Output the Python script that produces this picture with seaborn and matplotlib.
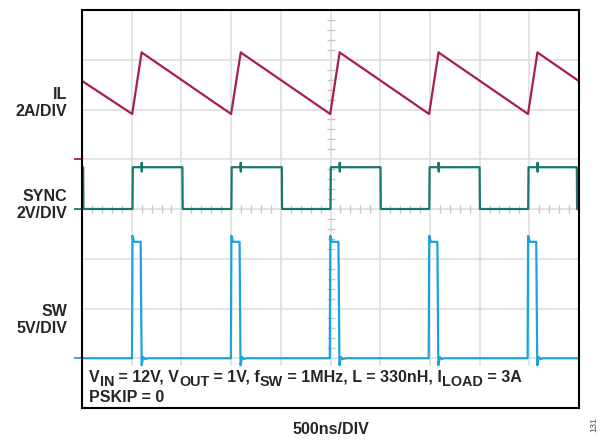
import matplotlib
matplotlib.use("Agg")
import matplotlib.pyplot as plt
import matplotlib.patches as mpatches
import pandas as pd
import seaborn as sns

# Scope settings: 500 ns/div horizontally, 10 x 8 divisions
ns_per_div = 500
n_xdiv = 10
n_ydiv = 8

# Inductor current IL (A), 2 A/div, ground marker at division 5
il_t_ns = [0, 505, 600, 612, 1500, 1597, 1609, 2497, 2592, 2604, 3492, 3587, 3599,
           4487, 4582, 4594, 5000]
il_amps = [3.15, 1.82, 4.30, 4.26, 1.82, 4.30, 4.26, 1.82, 4.30, 4.26, 1.82, 4.30, 4.26,
           1.82, 4.30, 4.26, 3.14]
il_scale, il_ground = 2.0, 5

# SYNC clock (V), 2 V/div, ground marker at division 4
sync_t_ns = [0, 12, 14, 508, 511,
             600, 601, 602, 603, 1010, 1013,
             1503, 1506, 1596, 1597, 1598, 1599, 2010, 2013,
             2500, 2503, 2592, 2593, 2594, 2595, 3003, 3006,
             3494, 3497, 3587, 3588, 3589, 3590, 4000, 4003,
             4489, 4492, 4582, 4583, 4584, 4585, 4978, 4981, 5000]
sync_volts = [1.68, 1.68, 0.0, 0.0, 1.68,
              1.68, 1.86, 1.50, 1.68, 1.68, 0.0,
              0.0, 1.68, 1.68, 1.86, 1.50, 1.68, 1.68, 0.0,
              0.0, 1.68, 1.68, 1.86, 1.50, 1.68, 1.68, 0.0,
              0.0, 1.68, 1.68, 1.86, 1.50, 1.68, 1.68, 0.0,
              0.0, 1.68, 1.68, 1.86, 1.50, 1.68, 1.68, 0.0, 0.0]
sync_scale, sync_ground = 2.0, 4

# Switch node SW (V), 5 V/div, ground marker at division 1
sw_t_ns = [0, 500,
           503, 508, 525, 590, 600, 615, 635, 660, 1495,
           1498, 1503, 1520, 1585, 1595, 1610, 1630, 1655, 2490,
           2493, 2498, 2515, 2580, 2590, 2605, 2625, 2650, 3485,
           3488, 3493, 3510, 3575, 3585, 3600, 3620, 3645, 4480,
           4483, 4488, 4505, 4570, 4580, 4595, 4615, 4640, 5000]
sw_volts = [0.0, 0.0,
            0.0, 12.3, 11.7, 11.7, -0.7, 0.12, -0.08, 0.0, 0.0,
            0.0, 12.3, 11.7, 11.7, -0.7, 0.12, -0.08, 0.0, 0.0,
            0.0, 12.3, 11.7, 11.7, -0.7, 0.12, -0.08, 0.0, 0.0,
            0.0, 12.3, 11.7, 11.7, -0.7, 0.12, -0.08, 0.0, 0.0,
            0.0, 12.3, 11.7, 11.7, -0.7, 0.12, -0.08, 0.0, 0.0]
sw_scale, sw_ground = 5.0, 1

channel_names = ["IL", "SYNC", "SW"]
channel_labels = ["IL\n2A/DIV", "SYNC\n2V/DIV", "SW\n5V/DIV"]
channel_colors = ["#A81E4C", "#17776D", "#1BA3DA"]

# test conditions: (text, is_subscript)
condition_parts = [("V", False), ("IN", True), (" = 12V, V", False), ("OUT", True),
                   (" = 1V, f", False), ("SW", True),
                   (" = 1MHz, L = 330nH, I", False), ("LOAD", True), (" = 3A", False)]
condition_line2 = "PSKIP = 0"
x_caption = "500ns/DIV"
fig_number = "131"

sns.set_style("white")
plt.rcParams["font.family"] = ["Liberation Sans", "DejaVu Sans"]

traces = pd.concat([
    pd.DataFrame({"t": il_t_ns, "div": [il_ground + a / il_scale for a in il_amps],
                  "ch": "IL"}),
    pd.DataFrame({"t": sync_t_ns, "div": [sync_ground + v / sync_scale for v in sync_volts],
                  "ch": "SYNC"}),
    pd.DataFrame({"t": sw_t_ns, "div": [sw_ground + v / sw_scale for v in sw_volts],
                  "ch": "SW"}),
], ignore_index=True)

W, H = 616, 441
fig = plt.figure(figsize=(W / 100, H / 100), dpi=100)
ax = fig.add_axes([82 / W, 33 / H, 497 / W, 398 / H])

ax.set_xlim(0, n_xdiv * ns_per_div)
ax.set_ylim(0, n_ydiv)
ax.set_xticks([i * ns_per_div for i in range(n_xdiv + 1)])
ax.set_yticks(range(n_ydiv + 1))
ax.set_xticklabels([])
ax.set_yticklabels([])
ax.tick_params(length=0)
ax.grid(True, color="#DCDCDC", lw=1.1)
ax.set_axisbelow(True)
for s in ax.spines.values():
    s.set_color("black")
    s.set_linewidth(1.5)
    s.set_zorder(5)

# minor ticks along the centre graticule lines
minor_x = [i * 100 for i in range(1, 50) if i % 5]
ax.plot(minor_x, [n_ydiv / 2] * len(minor_x), ls="none", marker="|", ms=6,
        mew=1.0, color="#C8C8C8", zorder=1)
minor_y = [i * 0.2 for i in range(1, 40) if i % 5]
ax.plot([n_xdiv * ns_per_div / 2] * len(minor_y), minor_y, ls="none", marker="_",
        ms=6, mew=1.0, color="#C8C8C8", zorder=1)

# white area behind the test conditions
ax.add_patch(mpatches.Rectangle((0, 0), 1, 42 / 398, transform=ax.transAxes,
                                facecolor="white", edgecolor="none", zorder=1.2))

for name, color in zip(channel_names, channel_colors):
    sns.lineplot(data=traces[traces["ch"] == name], x="t", y="div", ax=ax,
                 color=color, lw=1.6, estimator=None, sort=False, zorder=3)

# ground-level markers left of the graticule
for ground, color in zip([il_ground, sync_ground, sw_ground], channel_colors):
    ax.plot([-40], [ground], marker="_", ms=6, mew=1.3, color=color,
            clip_on=False, zorder=4)

ax.set_xlabel("")
ax.set_ylabel("")

label_y = [(95 + 111) / 2, (198 + 212) / 2, (313 + 327) / 2]
for lab, ypx in zip(channel_labels, label_y):
    fig.text(67 / W, 1 - ypx / H, lab, ha="right", va="center",
             fontsize=11.5, fontweight="bold", linespacing=1.1)

# first condition line, laid out piece by piece so subscripts stay large
renderer = fig.canvas.get_renderer()
x_px = 89.0
base_px = H - 382.0
for part, is_sub in condition_parts:
    t = fig.text(x_px / W, (base_px - (3.5 if is_sub else 0)) / H, part,
                 ha="left", va="baseline", fontsize=10.4 if is_sub else 11.5,
                 fontweight="bold", zorder=6)
    x_px += t.get_window_extent(renderer).width
fig.text(89 / W, (H - 402.0) / H, condition_line2, ha="left", va="baseline",
         fontsize=11.5, fontweight="bold", zorder=6)

fig.text(331 / W, 1 - 430 / H, x_caption, ha="center", va="center",
         fontsize=11.5, fontweight="bold")
fig.text(594 / W, 1 - 425 / H, fig_number, ha="center", va="center",
         rotation=90, fontsize=6.5, color="#555555")

fig.savefig("out.png", dpi=100, facecolor="white")
